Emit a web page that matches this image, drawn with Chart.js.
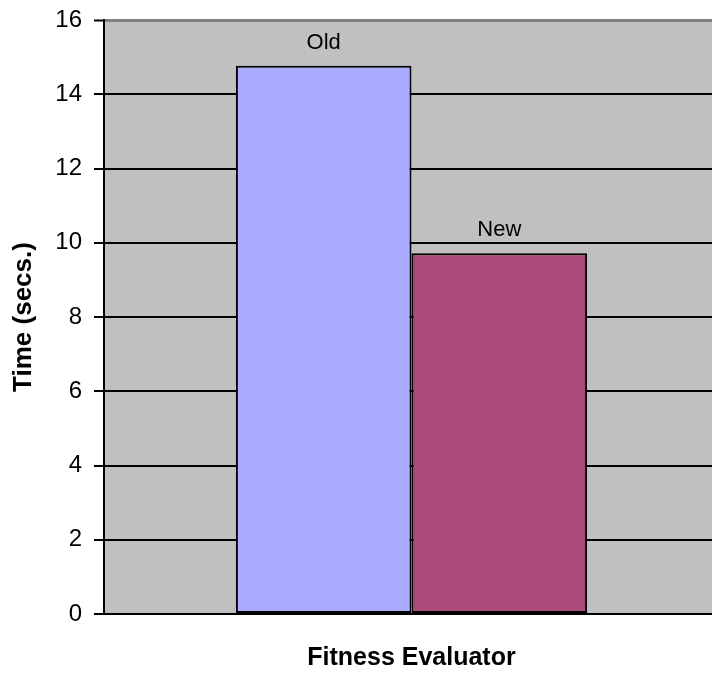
<!DOCTYPE html>
<html>
<head>
<meta charset="utf-8">
<script src="https://cdn.jsdelivr.net/npm/chart.js@4/dist/chart.umd.min.js"></script>
<style>
  html, body { margin: 0; padding: 0; background: #ffffff; overflow: hidden; }
  #wrap { width: 712px; height: 673px; overflow: hidden; }
  canvas { display: block; }
</style>
</head>
<body>
<div id="wrap"><canvas id="chart" width="719" height="673"></canvas></div>
<script>
// Evaluation time of the two fitness evaluators
const categories = [''];
const seriesNames = ['Old', 'New'];
const oldTimes = [14.77];
const newTimes = [9.72];
const yTicks = [0, 2, 4, 6, 8, 10, 12, 14, 16];

const FONT = "'Liberation Sans', Arial, sans-serif";

// Grey plot background behind the bars
const plotBackground = {
  id: 'plotBackground',
  beforeDraw(chart) {
    const { ctx, chartArea: a } = chart;
    ctx.save();
    ctx.fillStyle = '#C0C0C0';
    ctx.fillRect(a.left, a.top, a.right - a.left, a.bottom - a.top);
    ctx.restore();
  }
};

// Series name written above each bar
const seriesNameLabels = {
  id: 'seriesNameLabels',
  afterDatasetsDraw(chart) {
    const { ctx } = chart;
    ctx.save();
    ctx.font = '22px ' + FONT;
    ctx.fillStyle = '#000000';
    ctx.textAlign = 'center';
    ctx.textBaseline = 'alphabetic';
    chart.data.datasets.forEach((ds, i) => {
      const meta = chart.getDatasetMeta(i);
      meta.data.forEach(bar => {
        ctx.fillText(ds.label, bar.x, bar.y - 17);
      });
    });
    ctx.restore();
  }
};

new Chart(document.getElementById('chart'), {
  type: 'bar',
  data: {
    labels: categories,
    datasets: [
      {
        label: seriesNames[0],
        data: oldTimes,
        backgroundColor: '#AAAAFF',
        borderColor: '#000000',
        borderWidth: 2,
        borderSkipped: false
      },
      {
        label: seriesNames[1],
        data: newTimes,
        backgroundColor: '#AA4A78',
        borderColor: '#000000',
        borderWidth: 2,
        borderSkipped: false
      }
    ]
  },
  options: {
    responsive: false,
    animation: false,
    devicePixelRatio: 1,
    layout: { padding: { top: 20, right: 0, bottom: 0, left: 0 } },
    datasets: { bar: { categoryPercentage: 0.571, barPercentage: 1 } },
    plugins: {
      legend: { display: false },
      tooltip: { enabled: false }
    },
    scales: {
      x: {
        ticks: { display: false },
        grid: { display: false },
        border: { display: true, color: '#000000', width: 2 },
        title: {
          display: true,
          text: 'Fitness Evaluator',
          color: '#000000',
          font: { family: FONT, size: 25, weight: 'bold', lineHeight: 1.2 },
          padding: { top: 0, bottom: 0 }
        },
        afterFit(scale) { scale.height = 59; }
      },
      y: {
        min: 0,
        max: 16,
        afterBuildTicks(scale) { scale.ticks = yTicks.map(v => ({ value: v })); },
        ticks: {
          color: '#000000',
          font: { family: FONT, size: 24 },
          padding: 12
        },
        grid: {
          color: ctx => (ctx.tick && ctx.tick.value === 16 ? '#808080' : '#000000'),
          lineWidth: ctx => (ctx.tick && ctx.tick.value === 16 ? 3 : 2),
          tickColor: '#000000',
          tickLength: 10,
          tickWidth: 2
        },
        border: { display: true, color: '#000000', width: 2 },
        title: {
          display: true,
          text: 'Time (secs.)',
          color: '#000000',
          font: { family: FONT, size: 26, weight: 'bold', lineHeight: 1.2 },
          padding: { top: 8, bottom: 0 }
        },
        afterFit(scale) {
          scale.width = 104;
          scale.paddingTop = 0;
          scale.paddingBottom = 0;
        }
      }
    }
  },
  plugins: [plotBackground, seriesNameLabels]
});
</script>
</body>
</html>
